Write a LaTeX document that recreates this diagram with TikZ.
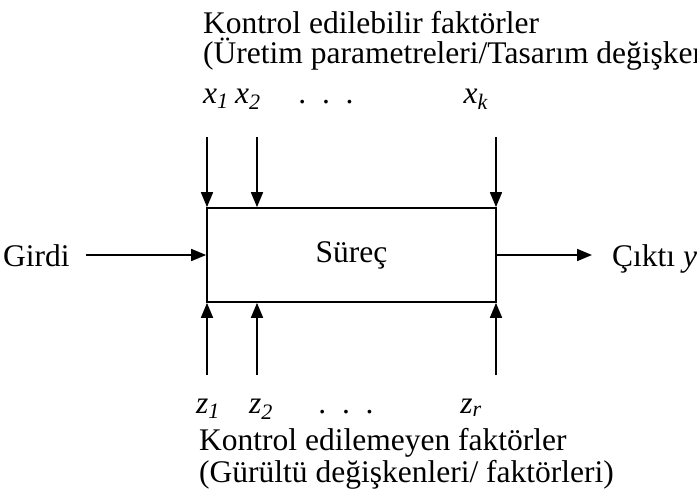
\documentclass[tikz,border=0pt]{standalone}
\usepackage{fontspec}
\setmainfont{Liberation Serif}
\usetikzlibrary{positioning,arrows.meta}
\newcommand{\fac}[2]{\textit{#1}\textsubscript{\textit{#2}}}

\begin{document}
\begin{tikzpicture}[
  x=1pt, y=-1pt,
  lbl/.style={inner sep=0pt, font=\fontsize{31.5}{32}\selectfont},
  proc/.style={draw, line width=1.7pt, minimum width=289pt, minimum height=94pt, inner sep=0pt},
  arr/.style={-{Triangle[length=15pt,width=12pt]}, line width=1.7pt},
]
\useasboundingbox (0,0) rectangle (697,498);
\node[proc, lbl] (surec) at (351.5,255) {Süreç};
% controllable factors
\node[lbl, anchor=base west] (ctrl) at (203,33) {Kontrol edilebilir faktörler};
\node[lbl, anchor=base west] (ctrlp) at (203,63) {(Üretim parametreleri/Tasarım değişkenleri)};
\node[lbl, anchor=base] (x1) at (216,103) {\fac{x}{1}};
\node[lbl, anchor=base] (x2) at (248,103) {\fac{x}{2}};
\node[lbl, anchor=base] (xd) at (326,103) {.\ \ .\ \ .};
\node[lbl, anchor=base] (xk) at (476,103) {\fac{x}{k}};
\coordinate (x1top) at (207,137);
\coordinate (x2top) at (257,137);
\coordinate (xktop) at (496,137);
\draw[arr] (x1top) -- (x1top |- surec.north);
\draw[arr] (x2top) -- (x2top |- surec.north);
\draw[arr] (xktop) -- (xktop |- surec.north);
% input / output
\node[lbl, anchor=base west] (girdi) at (3,266) {Girdi};
\node[lbl, anchor=base west] (cikti) at (612,266) {Çıktı \textit{y}};
\coordinate (inp) at (86,255);
\coordinate (out) at (592,255);
\draw[arr] (inp) -- (surec.west);
\draw[arr] (surec.east) -- (out);
% noise factors
\coordinate (z1bot) at (207,375);
\coordinate (z2bot) at (257,375);
\coordinate (zrbot) at (496,375);
\draw[arr] (z1bot) -- (z1bot |- surec.south);
\draw[arr] (z2bot) -- (z2bot |- surec.south);
\draw[arr] (zrbot) -- (zrbot |- surec.south);
\node[lbl, anchor=base] (z1) at (208,413) {\fac{z}{1}};
\node[lbl, anchor=base] (z2) at (261,413) {\fac{z}{2}};
\node[lbl, anchor=base] (zd) at (346,413) {.\ \ .\ \ .};
\node[lbl, anchor=base] (zr) at (471,413) {\fac{z}{r}};
\node[lbl, anchor=base west] (nctrl) at (199,450) {Kontrol edilemeyen faktörler};
\node[lbl, anchor=base west] (nctrlp) at (199,482) {(Gürültü değişkenleri/ faktörleri)};
\end{tikzpicture}
\end{document}
